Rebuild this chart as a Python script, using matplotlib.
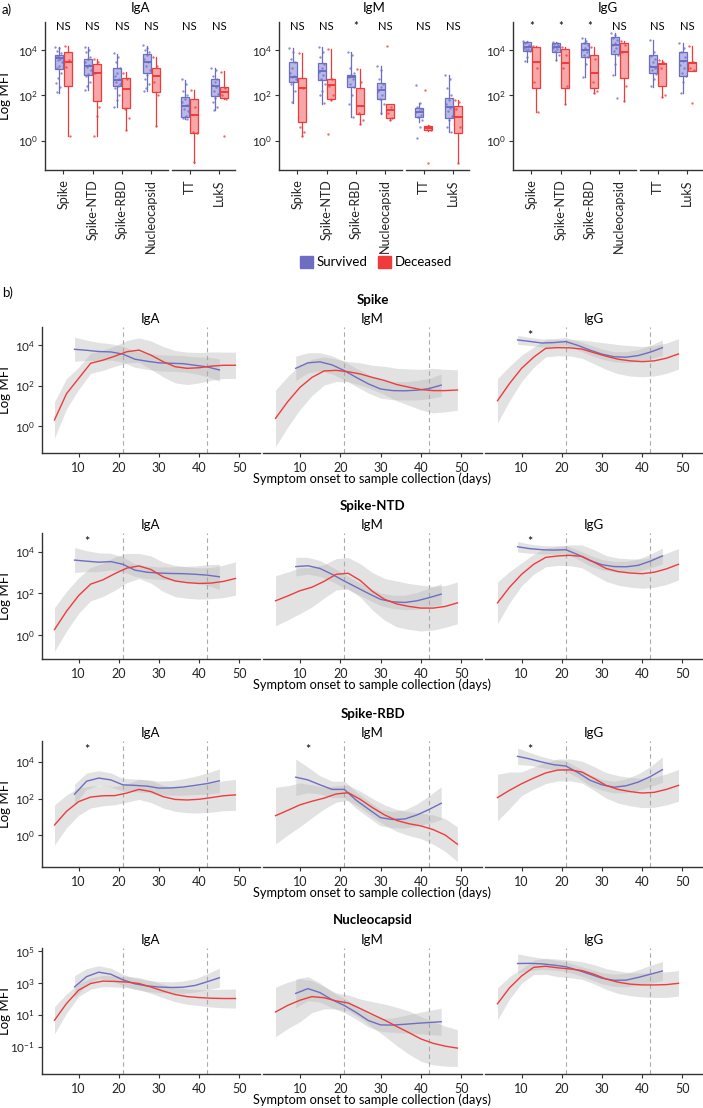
import numpy as np
import matplotlib.pyplot as plt
from matplotlib.patches import Patch
import matplotlib.transforms as mtransforms

plt.rcParams['font.family'] = ['Lato', 'DejaVu Sans']
plt.rcParams['mathtext.default'] = 'regular'

# ---------------- data (log10 MFI) ----------------
antigens = ['Spike', 'Spike-NTD', 'Spike-RBD', 'Nucleocapsid', 'TT', 'LukS']

# box stats per antigen: [whisker low, q1, median, q3, whisker high]
iga_surv_box = [[2.09, 3.15, 3.63, 3.76, 4.15], [2.24, 2.88, 3.31, 3.59, 4.15], [1.5, 2.41, 2.68, 3.22, 3.82],
                [2.21, 3.0, 3.47, 3.82, 4.19], [0.94, 1.06, 1.53, 1.91, 2.68], [1.35, 1.99, 2.41, 2.71, 3.19]]
iga_dec_box = [[0.2, 2.41, 3.46, 3.93, 4.19], [0.2, 1.75, 3.0, 3.37, 3.59], [0.47, 1.43, 2.28, 2.75, 3.04],
               [0.65, 2.16, 2.85, 3.19, 3.71], [-0.97, 0.35, 1.13, 1.84, 2.24], [1.84, 1.87, 2.16, 2.35, 3.07]]
igm_surv_box = [[1.68, 2.6, 2.82, 3.49, 4.07], [1.62, 2.68, 3.07, 3.44, 4.12], [1.06, 2.35, 2.79, 2.9, 3.93],
                [1.18, 1.85, 2.24, 2.53, 3.31], [0.84, 1.06, 1.28, 1.43, 1.65], [0.4, 0.99, 1.5, 1.87, 2.9]]
igm_dec_box = [[0.2, 0.84, 2.31, 2.78, 3.88], [1.79, 1.82, 2.46, 2.72, 4.03], [0.74, 1.16, 1.53, 2.34, 3.16],
               [0.91, 0.99, 1.35, 1.6, 1.6], [0.44, 0.47, 0.57, 0.65, 0.69], [-0.97, 0.32, 1.03, 1.53, 1.79]]
igg_surv_box = [[3.49, 3.97, 4.15, 4.37, 4.41], [3.56, 3.93, 4.15, 4.32, 4.34], [2.79, 3.71, 4.0, 4.29, 4.51],
                [2.9, 3.81, 4.22, 4.56, 4.74], [2.35, 3.0, 3.26, 3.78, 4.44], [2.09, 2.85, 3.51, 3.93, 4.32]]
igg_dec_box = [[1.28, 2.31, 3.49, 4.12, 4.18], [1.62, 2.31, 3.41, 4.03, 4.15], [2.09, 2.31, 3.0, 3.78, 4.12],
               [1.76, 2.75, 3.93, 4.29, 4.41], [1.94, 2.41, 3.37, 3.41, 3.56], [3.07, 3.09, 3.44, 3.49, 4.18]]

# individual samples
iga_surv_pts = [[4.15, 4.1, 3.95, 3.85, 3.75, 3.7, 3.6, 3.55, 3.45, 3.3, 3.2, 3.0, 2.75, 2.55, 2.35, 2.15],
                [4.15, 4.0, 3.9, 3.7, 3.6, 3.45, 3.35, 3.25, 3.1, 2.95, 2.85, 2.6, 2.4, 2.25],
                [3.85, 3.7, 3.45, 3.2, 3.0, 2.85, 2.7, 2.6, 2.5, 2.4, 2.3, 2.0, 1.8, 1.5],
                [4.2, 4.1, 4.0, 3.9, 3.8, 3.6, 3.45, 3.3, 3.1, 2.9, 2.7, 2.5, 2.3, 2.2],
                [2.7, 2.5, 2.2, 2.0, 1.85, 1.7, 1.55, 1.4, 1.3, 1.1, 1.0, 0.95],
                [3.2, 3.1, 2.85, 2.7, 2.6, 2.45, 2.35, 2.2, 2.05, 1.9, 1.7, 1.5, 1.35]]
iga_dec_pts = [[4.19, 3.55, 3.25, 0.2], [3.6, 3.45, 3.0, 1.5, 1.1, 0.2], [3.0, 2.7, 1.4, 1.0, 0.45],
               [3.7, 3.3, 2.6, 2.0, 0.65], [2.25, 1.5, 0.4, 0.35, -0.95], [3.05, 2.3, 2.0, 1.85, 0.2]]
igm_surv_pts = [[4.07, 3.9, 3.6, 3.45, 3.2, 3.0, 2.85, 2.8, 2.7, 2.6, 2.5, 2.2, 1.7],
                [4.12, 3.9, 3.7, 3.4, 3.2, 3.05, 2.9, 2.7, 2.5, 2.2, 2.0, 1.65],
                [3.93, 3.8, 3.2, 3.0, 2.9, 2.8, 2.7, 2.5, 2.35, 2.0, 1.6, 1.06],
                [3.3, 3.1, 2.7, 2.5, 2.35, 2.2, 2.0, 1.85, 1.6, 1.2],
                [2.46, 1.65, 1.5, 1.4, 1.3, 1.25, 1.15, 1.05, 0.9, 0.6, 0.1],
                [2.9, 2.7, 2.3, 2.0, 1.8, 1.6, 1.45, 1.3, 1.1, 0.9, 0.6, 0.4]]
igm_dec_pts = [[3.88, 2.3, 0.6, 0.4, 0.2], [4.03, 2.7, 2.4, 2.0, 1.8, 0.29], [3.16, 2.6, 1.2, 0.9, 0.74],
               [4.18, 1.5, 1.2, 1.0, 0.91], [2.24, 0.65, 0.55, 0.45, -0.97], [1.79, 1.7, 1.4, 0.6, -0.97]]
igg_surv_pts = [[4.41, 4.35, 4.3, 4.2, 4.15, 4.1, 4.05, 4.0, 3.95, 3.7, 3.5],
                [4.34, 4.3, 4.25, 4.2, 4.15, 4.1, 4.05, 3.95, 3.8, 3.55],
                [4.51, 4.4, 4.3, 4.2, 4.1, 4.0, 3.9, 3.8, 3.7, 3.4, 2.8],
                [4.74, 4.65, 4.55, 4.45, 4.3, 4.2, 4.1, 3.95, 3.8, 3.4, 2.9, 1.87],
                [4.44, 3.9, 3.75, 3.6, 3.45, 3.3, 3.2, 3.1, 2.95, 2.7, 2.4],
                [4.32, 4.1, 3.9, 3.7, 3.5, 3.35, 3.2, 3.0, 2.85, 2.6, 2.1]]
igg_dec_pts = [[4.18, 3.2, 2.6, 1.28], [4.15, 3.8, 3.2, 2.4, 1.62], [4.12, 3.6, 2.6, 2.2, 2.09],
               [4.41, 4.2, 3.9, 2.4, 1.76], [3.56, 3.45, 3.2, 2.0, 1.94], [4.18, 3.45, 3.2, 3.1, 1.68]]

iga_sig = ['NS', 'NS', 'NS', 'NS', 'NS', 'NS']
igm_sig = ['NS', 'NS', '*', 'NS', 'NS', 'NS']
igg_sig = ['*', '*', '*', 'NS', 'NS', 'NS']

# trend curves (log10 MFI) and half-width of the grey confidence band
days_dec = [4, 7, 10, 13, 16, 19, 22, 25, 28, 31, 34, 37, 40, 43, 46, 49]
days_surv = [9, 12, 15, 18, 21, 24, 27, 30, 33, 36, 39, 42, 45]

spike_iga_dec = [0.3, 1.6, 2.35, 3.1, 3.25, 3.45, 3.67, 3.75, 3.5, 3.18, 2.93, 2.85, 2.88, 2.96, 3.0, 3.0]
spike_iga_dec_ci = [0.9, 0.75, 0.55, 0.5, 0.5, 0.5, 0.55, 0.6, 0.7, 0.75, 0.8, 0.8, 0.75, 0.7, 0.65, 0.65]
spike_iga_surv = [3.79, 3.74, 3.68, 3.66, 3.55, 3.3, 3.2, 3.12, 3.1, 3.08, 3.0, 2.92, 2.77]
spike_iga_surv_ci = [0.6, 0.5, 0.45, 0.4, 0.4, 0.4, 0.4, 0.4, 0.4, 0.4, 0.42, 0.48, 0.55]
spike_igm_dec = [0.38, 1.2, 1.9, 2.4, 2.72, 2.75, 2.68, 2.57, 2.4, 2.25, 2.05, 1.92, 1.8, 1.75, 1.75, 1.78]
spike_igm_dec_ci = [1.4, 1.25, 1.1, 0.9, 0.7, 0.55, 0.5, 0.55, 0.6, 0.7, 0.8, 0.9, 1.0, 1.1, 1.05, 1.0]
spike_igm_surv = [2.85, 3.12, 3.17, 3.02, 2.74, 2.4, 2.08, 1.83, 1.75, 1.74, 1.77, 1.85, 2.02]
spike_igm_surv_ci = [0.6, 0.5, 0.45, 0.45, 0.45, 0.45, 0.45, 0.45, 0.45, 0.45, 0.48, 0.5, 0.55]
spike_igg_dec = [1.25, 2.1, 2.85, 3.4, 3.84, 3.87, 3.86, 3.8, 3.62, 3.45, 3.3, 3.22, 3.18, 3.22, 3.35, 3.56]
spike_igg_dec_ci = [1.1, 0.85, 0.65, 0.5, 0.42, 0.4, 0.4, 0.45, 0.55, 0.65, 0.72, 0.75, 0.75, 0.75, 0.75, 0.75]
spike_igg_surv = [4.25, 4.18, 4.1, 4.12, 4.17, 3.98, 3.75, 3.55, 3.42, 3.4, 3.48, 3.65, 3.87]
spike_igg_surv_ci = [0.22, 0.2, 0.2, 0.2, 0.2, 0.22, 0.25, 0.25, 0.25, 0.27, 0.3, 0.33, 0.38]

ntd_iga_dec = [0.27, 1.15, 1.9, 2.45, 2.65, 2.95, 3.22, 3.32, 3.15, 2.8, 2.6, 2.52, 2.48, 2.5, 2.58, 2.72]
ntd_iga_dec_ci = [1.05, 0.95, 0.85, 0.8, 0.8, 0.8, 0.7, 0.6, 0.65, 0.7, 0.75, 0.75, 0.75, 0.75, 0.78, 0.8]
ntd_iga_surv = [3.6, 3.55, 3.5, 3.53, 3.4, 3.12, 3.02, 2.98, 2.96, 2.95, 2.92, 2.88, 2.8]
ntd_iga_surv_ci = [0.6, 0.5, 0.45, 0.4, 0.35, 0.3, 0.3, 0.3, 0.32, 0.35, 0.4, 0.5, 0.6]
ntd_igm_dec = [1.65, 1.88, 2.13, 2.3, 2.58, 2.92, 2.97, 2.62, 2.1, 1.72, 1.5, 1.38, 1.3, 1.3, 1.38, 1.55]
ntd_igm_dec_ci = [1.2, 1.15, 1.1, 0.95, 0.8, 0.75, 0.75, 0.8, 0.9, 1.0, 1.1, 1.1, 1.1, 1.05, 1.0, 1.0]
ntd_igm_surv = [3.29, 3.33, 3.2, 2.92, 2.6, 2.3, 2.0, 1.72, 1.6, 1.57, 1.65, 1.8, 1.97]
ntd_igm_surv_ci = [0.45, 0.4, 0.38, 0.35, 0.33, 0.3, 0.3, 0.3, 0.32, 0.35, 0.4, 0.45, 0.5]
ntd_igg_dec = [1.55, 2.3, 2.92, 3.4, 3.73, 3.8, 3.83, 3.78, 3.5, 3.2, 3.05, 2.98, 2.95, 3.02, 3.18, 3.4]
ntd_igg_dec_ci = [1.0, 0.75, 0.55, 0.48, 0.45, 0.45, 0.5, 0.55, 0.6, 0.62, 0.65, 0.68, 0.7, 0.72, 0.75, 0.75]
ntd_igg_surv = [4.24, 4.15, 4.1, 4.08, 4.1, 3.86, 3.58, 3.38, 3.29, 3.28, 3.35, 3.55, 3.8]
ntd_igg_surv_ci = [0.25, 0.22, 0.2, 0.2, 0.2, 0.22, 0.25, 0.25, 0.25, 0.27, 0.3, 0.33, 0.38]

rbd_iga_dec = [0.55, 1.3, 1.83, 2.08, 2.15, 2.16, 2.3, 2.5, 2.38, 2.1, 1.95, 1.92, 1.96, 2.05, 2.15, 2.2]
rbd_iga_dec_ci = [1.1, 0.9, 0.75, 0.6, 0.55, 0.5, 0.5, 0.55, 0.6, 0.62, 0.65, 0.7, 0.75, 0.8, 0.82, 0.85]
rbd_iga_surv = [2.24, 2.95, 3.12, 3.02, 2.75, 2.72, 2.68, 2.57, 2.58, 2.63, 2.72, 2.82, 2.97]
rbd_iga_surv_ci = [0.55, 0.45, 0.4, 0.38, 0.35, 0.35, 0.35, 0.38, 0.4, 0.45, 0.5, 0.58, 0.65]
rbd_igm_dec = [1.06, 1.35, 1.65, 1.85, 2.02, 2.25, 2.32, 1.95, 1.5, 1.1, 0.8, 0.62, 0.5, 0.3, 0.0, -0.5]
rbd_igm_dec_ci = [1.55, 1.35, 1.2, 0.9, 0.6, 0.45, 0.42, 0.45, 0.5, 0.55, 0.6, 0.65, 0.7, 0.8, 0.9, 0.95]
rbd_igm_surv = [3.17, 3.02, 2.75, 2.5, 2.5, 1.9, 1.42, 0.95, 0.85, 0.88, 1.1, 1.4, 1.74]
rbd_igm_surv_ci = [1.0, 0.7, 0.5, 0.45, 0.45, 0.45, 0.45, 0.45, 0.45, 0.5, 0.6, 0.75, 0.9]
rbd_igg_dec = [2.05, 2.45, 2.81, 3.12, 3.4, 3.56, 3.57, 3.45, 3.1, 2.72, 2.5, 2.38, 2.3, 2.34, 2.5, 2.72]
rbd_igg_dec_ci = [1.28, 1.0, 0.65, 0.6, 0.58, 0.6, 0.6, 0.6, 0.65, 0.7, 0.75, 0.78, 0.8, 0.82, 0.85, 0.87]
rbd_igg_surv = [4.31, 4.17, 4.0, 3.85, 3.78, 3.42, 3.0, 2.75, 2.62, 2.7, 2.9, 3.2, 3.58]
rbd_igg_surv_ci = [0.45, 0.35, 0.3, 0.28, 0.28, 0.28, 0.3, 0.3, 0.32, 0.38, 0.45, 0.55, 0.7]

nuc_iga_dec = [0.67, 1.72, 2.55, 2.97, 3.12, 3.1, 3.06, 2.97, 2.75, 2.5, 2.28, 2.15, 2.09, 2.05, 2.03, 2.03]
nuc_iga_dec_ci = [0.85, 0.6, 0.4, 0.35, 0.35, 0.35, 0.35, 0.38, 0.4, 0.42, 0.45, 0.48, 0.5, 0.55, 0.58, 0.6]
nuc_iga_surv = [2.76, 3.4, 3.68, 3.55, 3.2, 2.95, 2.82, 2.75, 2.72, 2.74, 2.85, 3.08, 3.33]
nuc_iga_surv_ci = [0.7, 0.5, 0.4, 0.38, 0.35, 0.35, 0.35, 0.35, 0.35, 0.38, 0.42, 0.5, 0.6]
nuc_igm_dec = [1.19, 1.6, 1.92, 2.15, 2.08, 1.88, 1.75, 1.4, 1.03, 0.68, 0.28, -0.1, -0.5, -0.77, -0.95, -1.07]
nuc_igm_dec_ci = [1.55, 1.45, 1.35, 1.0, 0.7, 0.5, 0.5, 0.6, 0.8, 1.0, 1.2, 1.35, 1.4, 1.35, 1.25, 1.15]
nuc_igm_surv = [2.35, 2.65, 2.4, 1.95, 1.6, 1.15, 0.65, 0.38, 0.37, 0.42, 0.48, 0.53, 0.58]
nuc_igm_surv_ci = [0.9, 0.75, 0.6, 0.5, 0.45, 0.42, 0.4, 0.4, 0.45, 0.55, 0.65, 0.75, 0.85]
nuc_igg_dec = [1.7, 2.7, 3.44, 3.98, 4.05, 3.95, 3.88, 3.78, 3.55, 3.25, 3.05, 2.93, 2.88, 2.88, 2.9, 2.98]
nuc_igg_dec_ci = [1.0, 0.7, 0.45, 0.45, 0.5, 0.55, 0.55, 0.55, 0.6, 0.65, 0.7, 0.72, 0.75, 0.78, 0.8, 0.8]
nuc_igg_surv = [4.22, 4.23, 4.2, 4.12, 4.02, 3.8, 3.55, 3.3, 3.17, 3.18, 3.35, 3.55, 3.75]
nuc_igg_surv_ci = [0.6, 0.45, 0.35, 0.32, 0.3, 0.3, 0.32, 0.35, 0.38, 0.42, 0.48, 0.55, 0.6]

# ---------------- styling ----------------
BLUE = '#6d6dc4'
RED = '#ef3b3b'
BLUE_FACE = '#b9b9e6'
RED_FACE = '#f7a7a7'
SPINE = '#333333'

W, H = 703, 1108
fig = plt.figure(figsize=(W / 100, H / 100), dpi=100)


def px_axes(x0, y0, x1, y1):
    return fig.add_axes([x0 / W, 1 - y1 / H, (x1 - x0) / W, (y1 - y0) / H])


def style(ax, left=True):
    for s in ('top', 'right'):
        ax.spines[s].set_visible(False)
    ax.spines['left'].set_visible(left)
    for s in ('left', 'bottom'):
        ax.spines[s].set_color(SPINE)
        ax.spines[s].set_linewidth(1.0)
    ax.tick_params(colors=SPINE, length=3, width=0.8, labelcolor='#222222')
    ax.tick_params(axis='y', labelsize=8.5, pad=2)
    if not left:
        ax.tick_params(axis='y', left=False, labelleft=False)
    ax.yaxis.set_minor_locator(plt.NullLocator())


# ---------------- a) boxplots ----------------
def box_group(x0, title, surv_box, dec_box, surv_pts, dec_pts, sig, ylabel=False):
    ax1 = px_axes(x0, 21.7, x0 + 123, 170)
    ax2 = px_axes(x0 + 127, 21.7, min(x0 + 190, 703), 170)
    for ax, idx, xl in ((ax1, range(0, 4), (-0.62, 3.57)), (ax2, range(4, 6), (-0.6, 1.53))):
        ax.set_yscale('log')
        trans = mtransforms.blended_transform_factory(ax.transData, ax.transAxes)
        for j, i in enumerate(idx):
            for st, pts, off, ec, fc in ((surv_box[i], surv_pts[i], -0.155, BLUE, BLUE_FACE),
                                         (dec_box[i], dec_pts[i], 0.155, RED, RED_FACE)):
                lo, q1, med, q3, hi = 10 ** np.array(st)
                ax.bxp([dict(whislo=lo, q1=q1, med=med, q3=q3, whishi=hi, fliers=[])],
                       positions=[j + off], widths=0.27, patch_artist=True, showcaps=False,
                       showfliers=False, manage_ticks=False,
                       boxprops=dict(facecolor=fc, edgecolor=ec, linewidth=0.9),
                       medianprops=dict(color=ec, linewidth=1.4),
                       whiskerprops=dict(color=ec, linewidth=0.9))
                p = np.array(pts)
                jit = ((np.arange(len(p)) * 0.618) % 1 - 0.5) * 0.22
                ax.scatter(j + off + jit, 10 ** p, s=3, color=ec, alpha=0.75, lw=0, zorder=3)
            ax.text(j, 0.97, sig[i], transform=trans, ha='center', va='center', fontsize=8)
        ax.set_xlim(*xl)
        ax.set_ylim(10 ** -1.3, 10 ** 5.25)
        ax.set_xticks(range(len(idx)))
        ax.set_xticklabels([antigens[i] for i in idx], rotation=90, fontsize=9)
        ax.set_yticks([1, 1e2, 1e4])
    style(ax1, True)
    style(ax2, False)
    if ylabel:
        ax1.set_ylabel('Log MFI', fontsize=9.5)
        ax1.yaxis.set_label_coords((11 - x0) / 123, 0.5)
    fig.text((x0 + 95) / W, 1 - 8 / H, title, ha='center', va='center', fontsize=9.5)


box_group(45, 'IgA', iga_surv_box, iga_dec_box, iga_surv_pts, iga_dec_pts, iga_sig, ylabel=True)
box_group(279, 'IgM', igm_surv_box, igm_dec_box, igm_surv_pts, igm_dec_pts, igm_sig)
box_group(513, 'IgG', igg_surv_box, igg_dec_box, igg_surv_pts, igg_dec_pts, igg_sig)

fig.text(2 / W, 1 - 10 / H, 'a)', ha='left', va='center', fontsize=9.5)
fig.legend(handles=[Patch(facecolor=BLUE, edgecolor=BLUE), Patch(facecolor=RED, edgecolor=RED)],
           labels=['Survived', 'Deceased'], loc='center', bbox_to_anchor=(376 / W, 1 - 262 / H),
           ncol=2, frameon=False, handlelength=1.0, handleheight=1.0, handletextpad=0.3,
           columnspacing=0.8, fontsize=9.5)

# ---------------- b) trend curves ----------------
fig.text(2 / W, 1 - 293 / H, 'b)', ha='left', va='center', fontsize=9.5)

rows = [
    ('Spike', [(spike_iga_dec, spike_iga_dec_ci, spike_iga_surv, spike_iga_surv_ci),
               (spike_igm_dec, spike_igm_dec_ci, spike_igm_surv, spike_igm_surv_ci),
               (spike_igg_dec, spike_igg_dec_ci, spike_igg_surv, spike_igg_surv_ci)]),
    ('Spike-NTD', [(ntd_iga_dec, ntd_iga_dec_ci, ntd_iga_surv, ntd_iga_surv_ci),
                   (ntd_igm_dec, ntd_igm_dec_ci, ntd_igm_surv, ntd_igm_surv_ci),
                   (ntd_igg_dec, ntd_igg_dec_ci, ntd_igg_surv, ntd_igg_surv_ci)]),
    ('Spike-RBD', [(rbd_iga_dec, rbd_iga_dec_ci, rbd_iga_surv, rbd_iga_surv_ci),
                   (rbd_igm_dec, rbd_igm_dec_ci, rbd_igm_surv, rbd_igm_surv_ci),
                   (rbd_igg_dec, rbd_igg_dec_ci, rbd_igg_surv, rbd_igg_surv_ci)]),
    ('Nucleocapsid', [(nuc_iga_dec, nuc_iga_dec_ci, nuc_iga_surv, nuc_iga_surv_ci),
                      (nuc_igm_dec, nuc_igm_dec_ci, nuc_igm_surv, nuc_igm_surv_ci),
                      (nuc_igg_dec, nuc_igg_dec_ci, nuc_igg_surv, nuc_igg_surv_ci)]),
]
row_stars = [[False, False, True], [True, False, True], [True, True, True], [False, False, False]]
row_ylim = [(-1.33, 4.89), (-1.14, 4.9), (-1.75, 5.15), (-2.69, 5.19)]
row_yticks = [[0, 2, 4], [0, 2, 4], [0, 2, 4], [-1, 1, 3, 5]]
row_top = [327, 533, 741, 948]
col_x = [(42, 260), (263, 482), (485, 703)]
isotypes = ['IgA', 'IgM', 'IgG']

for r, (name, panels) in enumerate(rows):
    top = row_top[r]
    bot = top + 126
    for c, (dec, dec_ci, surv, surv_ci) in enumerate(panels):
        ax = px_axes(col_x[c][0], top, col_x[c][1], bot)
        ax.set_yscale('log')
        for days, v, ci, col in ((days_dec, dec, dec_ci, RED), (days_surv, surv, surv_ci, BLUE)):
            v = np.array(v)
            ci = np.array(ci)
            ax.fill_between(days, 10 ** (v - ci), 10 ** (v + ci), color='#bbbbbb', alpha=0.42, lw=0)
        for days, v, col in ((days_surv, surv, BLUE), (days_dec, dec, RED)):
            ax.plot(days, 10 ** np.array(v), color=col, lw=1.0, zorder=4)
        for xv in (21, 42):
            ax.axvline(xv, color='#aaaaaa', lw=0.8, ls=(0, (4, 3)), zorder=1)
        if row_stars[r][c]:
            ax.text(12, 0.93, '*', transform=mtransforms.blended_transform_factory(ax.transData, ax.transAxes),
                    ha='center', va='center', fontsize=9)
        ax.set_xlim(0.9, 55.1)
        ax.set_ylim(10 ** row_ylim[r][0], 10 ** row_ylim[r][1])
        ax.set_xticks([10, 20, 30, 40, 50])
        ax.set_yticks([10.0 ** t for t in row_yticks[r]])
        ax.tick_params(axis='x', labelsize=9)
        ax.set_title(isotypes[c], fontsize=9.5, pad=3)
        style(ax, c == 0)
        if c == 0:
            ax.set_ylabel('Log MFI', fontsize=9.5)
            ax.yaxis.set_label_coords((11 - 42) / 218, 0.5)
    fig.text(372.5 / W, 1 - (top - 27.5) / H, name, ha='center', va='center', fontsize=9.5, weight='bold')
    fig.text(372.5 / W, 1 - (bot + 26) / H, 'Symptom onset to sample collection (days)',
             ha='center', va='center', fontsize=9.2)

fig.savefig('out.png', dpi=100)
